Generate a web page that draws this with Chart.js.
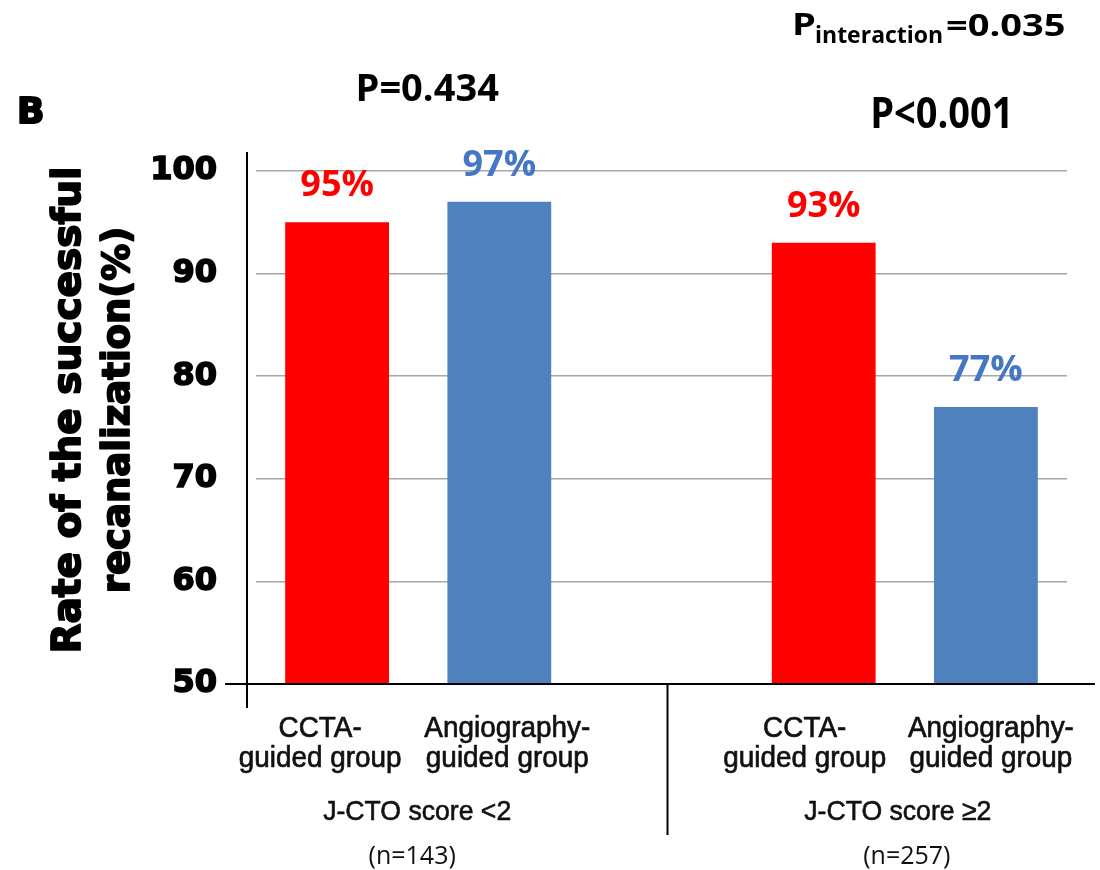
<!DOCTYPE html>
<html>
<head>
<meta charset="utf-8">
<script src="https://cdn.jsdelivr.net/npm/chart.js@4"></script>
<style>
  html, body { margin: 0; padding: 0; background: #fff; }
  canvas { display: block; }
</style>
</head>
<body>
<canvas id="rateChart" width="1100" height="870"></canvas>
<script>
// successful recanalization rate by guidance strategy, split by J-CTO score
const categories = [
  ['CCTA-', 'guided group'],
  ['Angiography-', 'guided group'],
  '',
  ['CCTA-', 'guided group'],
  ['Angiography-', 'guided group']
];
const successRates = [95, 97, null, 93, 77];
const yTicks = [50, 60, 70, 80, 90, 100];
const groupMembers = [[0, 1], [3, 4]];
const groupNames = ['J-CTO score <2', 'J-CTO score \u22652'];
const groupSizes = ['(n=143)', '(n=257)'];
const groupPValues = ['P=0.434', 'P<0.001'];
const interactionP = '=0.035';
const yTitle = ['Rate of the successful', 'recanalization(%)'];

const RED = '#ff0000';
const BLUE = '#4f81bd';
const BLUE_TEXT = '#4677c4';
const barColors = [RED, BLUE, null, RED, BLUE];
const labelColors = [RED, BLUE_TEXT, null, RED, BLUE_TEXT];

// fill text, optionally squashed/stretched and thickened with a stroke
function drawText(ctx, text, x, y, font, color, align, sx = 1, sy = 1, weight = 0) {
  ctx.save();
  ctx.font = font;
  ctx.fillStyle = color;
  ctx.textAlign = align;
  ctx.textBaseline = 'alphabetic';
  ctx.translate(x, y);
  ctx.scale(sx, sy);
  ctx.fillText(text, 0, 0);
  if (weight > 0) {
    ctx.strokeStyle = color;
    ctx.lineWidth = weight;
    ctx.lineJoin = 'round';
    ctx.strokeText(text, 0, 0);
  }
  ctx.restore();
}

const decorations = {
  id: 'decorations',
  afterDatasetsDraw(chart) {
    const ctx = chart.ctx;
    // percentage above each bar
    chart.getDatasetMeta(0).data.forEach((bar, i) => {
      const v = successRates[i];
      if (v == null) return;
      drawText(ctx, v + '%', bar.x, bar.y - 26, 'bold 36px "Open Sans"', labelColors[i], 'center');
    });
  },
  afterDraw(chart) {
    const ctx = chart.ctx;
    const { x, y } = chart.scales;
    const base = y.getPixelForValue(yTicks[0]);
    const top = y.getPixelForValue(yTicks[yTicks.length - 1]);
    const axisX = chart.chartArea.left - 9;

    // axis lines, baseline and the divider between the two groups
    ctx.save();
    ctx.strokeStyle = '#000';
    ctx.lineWidth = 2;
    ctx.beginPath();
    ctx.moveTo(axisX, top - 19);
    ctx.lineTo(axisX, base + 24);
    ctx.moveTo(axisX - 22, base);
    ctx.lineTo(chart.width - 5, base);
    const divX = x.getPixelForValue(2) + 6;
    ctx.moveTo(divX, base);
    ctx.lineTo(divX, base + 151);
    ctx.stroke();
    ctx.restore();

    // category labels, nudged apart so the pair does not collide
    const shift = [-17, 8, 0, -19, 5];
    categories.forEach((lines, i) => {
      if (!lines) return;
      const cx = x.getPixelForValue(i) + shift[i];
      lines.forEach((t, k) => {
        drawText(ctx, t, cx, base + 53 + k * 30, '30px "Liberation Sans"', '#111', 'center', 0.93, 1, 0.7);
      });
    });

    // group captions, sizes and p values
    const nameShift = [-1, -7];
    const sizeShift = [-6, 2];
    const pShift = [9, 37];
    const pBase = [101, 128];
    const pStretch = [1, 1.12];
    groupMembers.forEach((pair, g) => {
      const mid = (x.getPixelForValue(pair[0]) + x.getPixelForValue(pair[1])) / 2;
      drawText(ctx, groupNames[g], mid + nameShift[g], base + 136, '28px "Liberation Sans"', '#111', 'center', 0.95, 1, 0.6);
      drawText(ctx, groupSizes[g], mid + sizeShift[g], base + 180, '25px "Open Sans"', '#111', 'center');
      drawText(ctx, groupPValues[g], mid + pShift[g], pBase[g], 'bold 38px "Open Sans"', '#000', 'center', 1, pStretch[g]);
    });

    // interaction p value with subscript
    drawText(ctx, 'P', 792, 35, 'bold 38px "Open Sans"', '#000', 'left', 1, 0.82);
    drawText(ctx, 'interaction', 815, 43, 'bold 23px "Open Sans"', '#000', 'left');
    drawText(ctx, interactionP, 946, 36, 'bold 38px "Open Sans"', '#000', 'left', 1, 0.82);

    // panel letter
    drawText(ctx, 'B', 17, 123, 'bold 36px "DejaVu Sans"', '#000', 'left', 1, 1, 2);

    // y axis title, two rotated lines
    const midY = 410;
    [[yTitle[0], 80, 39], [yTitle[1], 129, 37]].forEach(([t, bx, size]) => {
      ctx.save();
      ctx.translate(bx, midY);
      ctx.rotate(-Math.PI / 2);
      drawText(ctx, t, 0, 0, 'bold ' + size + 'px "DejaVu Sans"', '#000', 'center', 1, 1, 1.8);
      ctx.restore();
    });
  }
};

function setupChart() {
  new Chart(document.getElementById('rateChart'), {
    type: 'bar',
    data: {
      labels: categories,
      datasets: [{
        data: successRates,
        backgroundColor: barColors,
        barPercentage: 0.64,
        categoryPercentage: 1
      }]
    },
    options: {
      responsive: false,
      animation: false,
      layout: { padding: { left: 0, right: 33, top: 171, bottom: 186 } },
      plugins: { legend: { display: false }, tooltip: { enabled: false } },
      scales: {
        x: { display: false },
        y: {
          min: yTicks[0],
          max: yTicks[yTicks.length - 1],
          afterFit: s => { s.width = 256; },
          afterBuildTicks: s => { s.ticks = yTicks.map(v => ({ value: v })); },
          ticks: {
            padding: 39,
            color: '#000',
            textStrokeColor: '#000',
            textStrokeWidth: 1.6,
            font: { family: 'DejaVu Sans', weight: 'bold', size: 32 }
          },
          grid: { color: '#a6a6a6', lineWidth: 1.5, drawTicks: false },
          border: { display: false }
        }
      }
    },
    plugins: [decorations]
  });
}

const fontsNeeded = [
  'bold 36px "Open Sans"', '25px "Open Sans"',
  '30px "Liberation Sans"', 'bold 32px "DejaVu Sans"'
];
Promise.all(fontsNeeded.map(f => document.fonts.load(f)))
  .catch(() => {})
  .then(setupChart);
</script>
</body>
</html>
